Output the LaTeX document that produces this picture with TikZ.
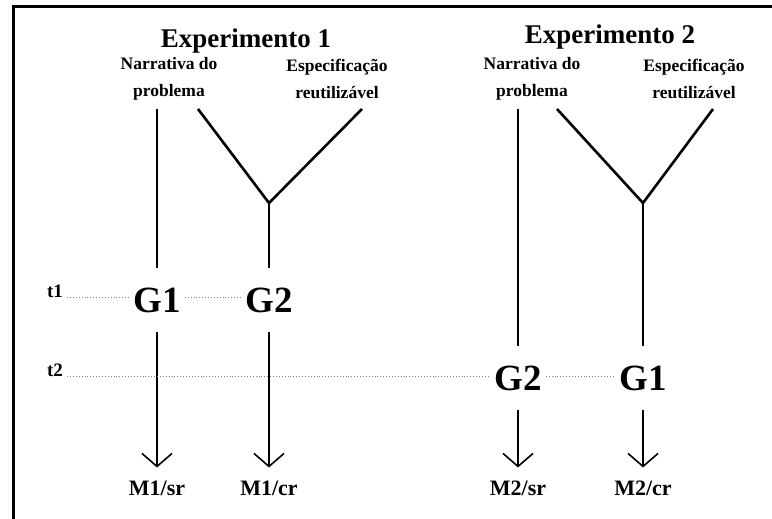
\documentclass[tikz,border=0pt]{standalone}
\usepackage{fontspec}
\setmainfont{Liberation Serif}
\usetikzlibrary{arrows.meta, positioning}
\tikzset{
  % bold serif labels, sizes in pt so one unit is one pixel
  ttl/.style  = {font=\fontsize{27}{30}\selectfont\bfseries},
  src/.style  = {font=\fontsize{17.5}{27}\selectfont\bfseries, align=center},
  grp/.style  = {font=\fontsize{37}{40}\selectfont\bfseries, inner xsep=4pt,
                 inner ysep=0pt, minimum height=64pt},
  tlbl/.style = {font=\fontsize{19}{20}\selectfont\bfseries, inner sep=0pt, anchor=base},
  mlbl/.style = {font=\fontsize{22}{24}\selectfont\bfseries, text height=14pt,
                 text depth=3pt, inner ysep=0pt, outer ysep=14pt},
  flow/.style = {line width=1.6pt},
  fork/.style = {line width=2.6pt},
  res/.style  = {line width=1.6pt, -{Straight Barb[length=13pt, width=30pt]}},
  tline/.style= {gray, dotted, line width=0.9pt},
}

\begin{document}
\begin{tikzpicture}[x=1pt, y=-1pt]
\useasboundingbox (0,0) rectangle (772,519);
\draw[line width=3pt] (13,519) -- (13,7) -- (772,7);

% ---- experimento 1 --------------------------------------------------------
\node[ttl] (exp1) at (246,41) {Experimento 1};
\node[src] (nar1) at (169,79) {Narrativa do\\problema};
\node[src] (esp1) at (337,79) {Especificação\\reutilizável};
\coordinate (nar1e) at (157,109);
\coordinate (fk1l) at (198,109);
\coordinate (fk1r) at (362,109);
\coordinate (fk1) at (269,203);
\node[grp] (g1a) at (157,300) {G1};
\node[grp] (g2a) at (269,300) {G2};
\node[mlbl] (m1sr) at (157,490) {M1/sr};
\node[mlbl] (m1cr) at (269,490) {M1/cr};
\draw[flow] (nar1e) -- (g1a.north);
\draw[fork] (fk1l) -- (fk1) -- (fk1r);
\draw[flow] (fk1) -- (g2a.north);
\draw[res] (g1a.south) -- (m1sr.north);
\draw[res] (g2a.south) -- (m1cr.north);

% ---- experimento 2 --------------------------------------------------------
\node[ttl] (exp2) at (610,37) {Experimento 2};
\node[src] (nar2) at (532,79) {Narrativa do\\problema};
\node[src] (esp2) at (694,79) {Especificação\\reutilizável};
\coordinate (nar2e) at (518,109);
\coordinate (fk2l) at (557,109);
\coordinate (fk2r) at (713,109);
\coordinate (fk2) at (643,203);
\node[grp] (g2b) at (518,378) {G2};
\node[grp] (g1b) at (643,378) {G1};
\node[mlbl] (m2sr) at (518,490) {M2/sr};
\node[mlbl] (m2cr) at (643,490) {M2/cr};
\draw[flow] (nar2e) -- (g2b.north);
\draw[fork] (fk2l) -- (fk2) -- (fk2r);
\draw[flow] (fk2) -- (g1b.north);
\draw[res] (g2b.south) -- (m2sr.north);
\draw[res] (g1b.south) -- (m2cr.north);

% ---- tempos ---------------------------------------------------------------
\node[tlbl] (t1) at (55,297) {t1};
\node[tlbl] (t2) at (55,376) {t2};
\draw[tline, shorten <=4pt] (t1.base east) -- (t1.base east -| g1a.west);
\draw[tline] (t1.base -| g1a.east) -- (t1.base -| g2a.west);
\draw[tline, shorten <=4pt] (t2.base east) -- (t2.base east -| g2b.west);
\draw[tline] (t2.base -| g2b.east) -- (t2.base -| g1b.west);
\end{tikzpicture}
\end{document}
